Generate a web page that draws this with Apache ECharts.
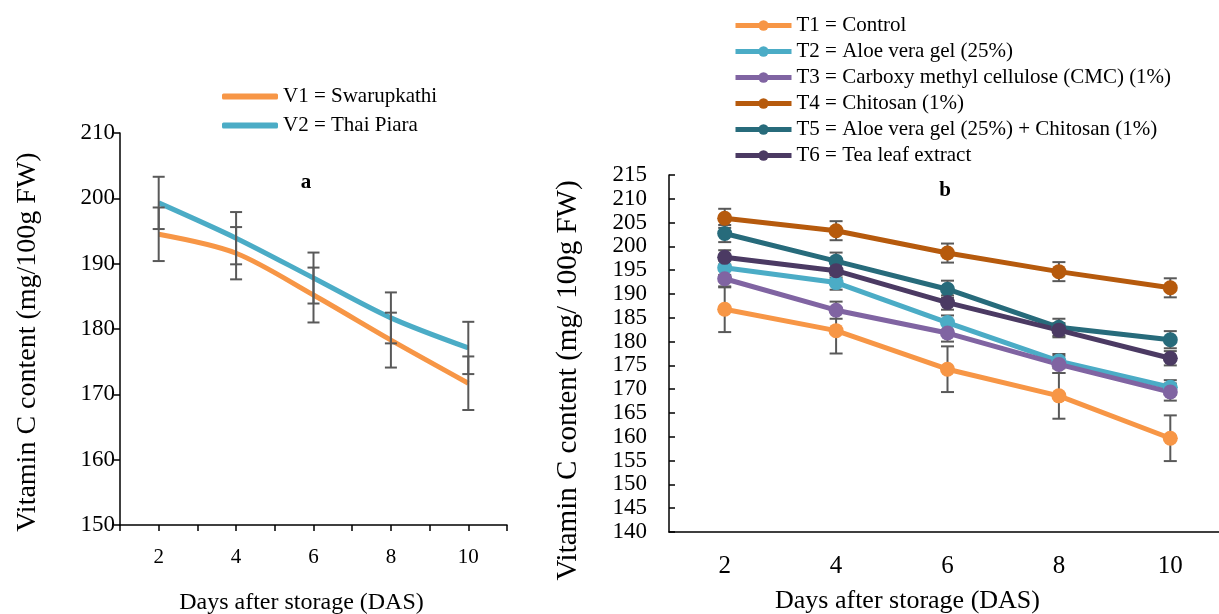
<!DOCTYPE html>
<html>
<head>
<meta charset="utf-8">
<script src="https://cdn.jsdelivr.net/npm/echarts@6/dist/echarts.min.js"></script>
<style>
    html, body { margin: 0; padding: 0; background: #fff; }
    #main { width: 1219px; height: 614px; }
</style>
</head>
<body>
<div id="main"></div>
<script type="text/javascript">
    // chart a: two varieties
    const daysA = [2, 4, 6, 8, 10];
    const v1 = [194.5, 191.6, 185.2, 178.3, 171.7];
    const v1Err = [4.1, 4.0, 4.2, 4.2, 4.1];
    const v2 = [199.3, 193.9, 187.8, 181.7, 177.1];
    const v2Err = [4.0, 4.0, 3.9, 3.9, 4.0];
    const namesA = ['V1 = Swarupkathi', 'V2 = Thai Piara'];
    const colorsA = ['#F79646', '#4BACC6'];

    // chart b: six treatments
    const daysB = ['2', '4', '6', '8', '10'];
    const t1 = [186.8, 182.3, 174.2, 168.6, 159.7];
    const t2 = [195.5, 192.4, 184.0, 175.9, 170.4];
    const t3 = [193.2, 186.6, 181.8, 175.2, 169.4];
    const t4 = [205.9, 203.3, 198.6, 194.7, 191.3];
    const t5 = [202.7, 196.9, 191.0, 183.0, 180.4];
    const t6 = [197.7, 194.9, 188.2, 182.4, 176.5];
    const tErr = [4.8, 1.5, 1.8, 2.0, 1.8, 1.5];
    const namesB = ['T1 = Control', 'T2 = Aloe vera gel (25%)', 'T3 = Carboxy methyl cellulose (CMC) (1%)',
        'T4 = Chitosan (1%)', 'T5 = Aloe vera gel (25%) + Chitosan (1%)', 'T6 = Tea leaf extract'];
    const colorsB = ['#F79646', '#4BACC6', '#8064A2', '#B65A0D', '#276B7B', '#4B3A63'];

    const font = 'Liberation Serif';
    const errColor = '#595959';

    // error bar drawing: data items are [x, low, high]
    function errorBar(capHalf) {
        return function (params, api) {
            const lo = api.coord([api.value(0), api.value(1)]);
            const hi = api.coord([api.value(0), api.value(2)]);
            const st = { stroke: errColor, lineWidth: 2 };
            return {
                type: 'group',
                children: [
                    { type: 'line', shape: { x1: lo[0], y1: lo[1], x2: hi[0], y2: hi[1] }, style: st },
                    { type: 'line', shape: { x1: lo[0] - capHalf, y1: lo[1], x2: lo[0] + capHalf, y2: lo[1] }, style: st },
                    { type: 'line', shape: { x1: hi[0] - capHalf, y1: hi[1], x2: hi[0] + capHalf, y2: hi[1] }, style: st }
                ]
            };
        };
    }

    let seriesList = [];

    // chart a lines + error bars
    [v1, v2].forEach(function (vals, i) {
        seriesList.push({
            name: namesA[i],
            type: 'line',
            xAxisIndex: 0, yAxisIndex: 0,
            smooth: 0.3,
            symbol: 'none',
            lineStyle: { color: colorsA[i], width: 5 },
            itemStyle: { color: colorsA[i] },
            data: vals.map(function (v, k) { return [daysA[k], v]; }),
            z: 2
        });
    });
    [[v1, v1Err], [v2, v2Err]].forEach(function (p) {
        seriesList.push({
            type: 'custom',
            xAxisIndex: 0, yAxisIndex: 0,
            renderItem: errorBar(6),
            data: p[0].map(function (v, k) { return [daysA[k], v - p[1][k], v + p[1][k]]; }),
            silent: true,
            z: 3
        });
    });

    // chart b lines + error bars
    [t1, t2, t3, t4, t5, t6].forEach(function (vals, i) {
        seriesList.push({
            type: 'custom',
            xAxisIndex: 1, yAxisIndex: 1,
            renderItem: errorBar(6.5),
            data: vals.map(function (v, k) { return [k, v - tErr[i], v + tErr[i]]; }),
            silent: true,
            z: 1
        });
    });
    [t1, t2, t3, t4, t5, t6].forEach(function (vals, i) {
        seriesList.push({
            name: namesB[i],
            type: 'line',
            xAxisIndex: 1, yAxisIndex: 1,
            symbol: 'circle',
            symbolSize: 15,
            lineStyle: { color: colorsB[i], width: 5 },
            itemStyle: { color: colorsB[i] },
            data: vals,
            z: 2
        });
    });

    const axisLine = { lineStyle: { color: '#000', width: 1.5 } };
    const legendText = { fontFamily: font, fontSize: 21, lineHeight: 21, color: '#000' };

    let option = {
        animation: false,
        backgroundColor: '#fff',
        textStyle: { fontFamily: font, color: '#000' },
        graphic: [
            { type: 'text', x: 306, y: 183, style: { text: 'a', font: 'bold 21px ' + font, fill: '#000', textAlign: 'center', textVerticalAlign: 'middle' } },
            { type: 'text', x: 945, y: 191, style: { text: 'b', font: 'bold 21px ' + font, fill: '#000', textAlign: 'center', textVerticalAlign: 'middle' } }
        ],
        legend: [
            {
                data: namesA.map(function (n) { return { name: n, icon: 'roundRect' }; }),
                orient: 'vertical',
                left: 222, top: 86, padding: 0,
                itemWidth: 56, itemHeight: 6,
                itemGap: 8,
                textStyle: legendText
            },
            {
                data: namesB,
                orient: 'vertical',
                left: 733, top: 15, padding: 0,
                itemWidth: 56, itemHeight: 13,
                itemGap: 5,
                lineStyle: { width: 5 },
                textStyle: legendText
            }
        ],
        grid: [
            { left: 120, top: 133, right: 712, bottom: 89, outerBoundsMode: 'none' },
            { left: 669, top: 175, right: -7, bottom: 82, outerBoundsMode: 'none' }
        ],
        xAxis: [
            {
                gridIndex: 0, type: 'value', min: 1, max: 11, interval: 1,
                axisLine: axisLine,
                axisTick: { length: 6, lineStyle: { color: '#000', width: 1.5 } },
                axisLabel: {
                    fontFamily: font, fontSize: 21, color: '#000', margin: 22,
                    formatter: function (v) { return v % 2 === 0 ? String(v) : ''; }
                },
                splitLine: { show: false },
                name: 'Days after storage (DAS)',
                nameLocation: 'middle', nameGap: 66,
                nameTextStyle: { fontFamily: font, fontSize: 24, color: '#000', padding: [0, 24, 0, 0] }
            },
            {
                gridIndex: 1, type: 'category', data: daysB, boundaryGap: true,
                axisLine: axisLine,
                axisTick: { inside: true, length: 6, lineStyle: { color: '#000', width: 1.5 } },
                axisLabel: { fontFamily: font, fontSize: 25, color: '#000', margin: 22 },
                name: 'Days after storage (DAS)',
                nameLocation: 'middle', nameGap: 56,
                nameTextStyle: { fontFamily: font, fontSize: 26, color: '#000', padding: [0, 80, 0, 0] }
            }
        ],
        yAxis: [
            {
                gridIndex: 0, type: 'value', min: 150, max: 210, interval: 10,
                axisLine: Object.assign({ show: true }, axisLine),
                axisTick: { show: true, length: 6, lineStyle: { color: '#000', width: 1.5 } },
                axisLabel: { fontFamily: font, fontSize: 23, color: '#000', margin: 5 },
                splitLine: { show: false },
                name: 'Vitamin C content (mg/100g FW)',
                nameLocation: 'middle', nameGap: 78,
                nameTextStyle: { fontFamily: font, fontSize: 28, color: '#000', padding: [0, 26, 0, 0] }
            },
            {
                gridIndex: 1, type: 'value', min: 140, max: 215, interval: 5,
                axisLine: Object.assign({ show: true }, axisLine),
                axisTick: { show: true, inside: true, length: 6, lineStyle: { color: '#000', width: 1.5 } },
                axisLabel: { fontFamily: font, fontSize: 23, color: '#000', margin: 22 },
                splitLine: { show: false },
                name: 'Vitamin C content (mg/ 100g FW)',
                nameLocation: 'middle', nameGap: 86,
                nameTextStyle: { fontFamily: font, fontSize: 29, color: '#000', padding: [0, 54, 0, 0] }
            }
        ],
        series: seriesList
    };

    let myChart = echarts.init(document.getElementById('main'));
    myChart.setOption(option);
</script>
</body>
</html>
